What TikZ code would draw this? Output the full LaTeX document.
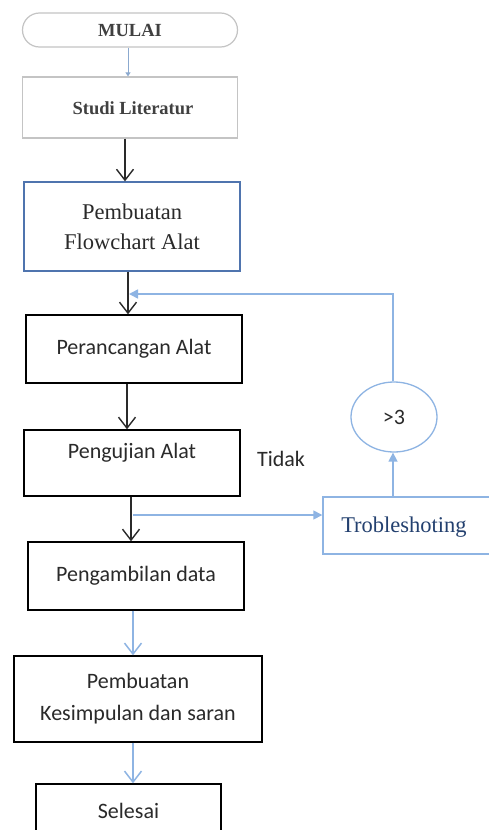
\documentclass[tikz,border=0pt]{standalone}
\usepackage{fontspec}
\setmainfont{Liberation Serif}
\newfontfamily\calib{Carlito}
\usetikzlibrary{arrows.meta,shapes.geometric}
\definecolor{lineblue}{HTML}{8EB4E3}
\definecolor{steelblue}{HTML}{4F74AE}
\definecolor{darkblue}{HTML}{23406F}
\definecolor{softgray}{HTML}{C4C4C4}
\definecolor{inkgray}{HTML}{2A2A2A}
\tikzset{
  box/.style={draw=black, line width=1.4pt, rectangle, inner sep=0pt},
  paleBox/.style={draw=softgray, line width=1.2pt, rectangle, inner sep=0pt},
  sanslabel/.style={font=\calib\fontsize{22}{32}\selectfont, text=inkgray, align=center},
  seriflabel/.style={font=\fontsize{22.5}{30}\selectfont, text=inkgray, align=center},
  boldlabel/.style={font=\bfseries\fontsize{18.5}{22}\selectfont, text=black!75},
  flowblack/.style={draw=inkgray, line width=1.4pt, -{Straight Barb[length=11pt,width=17pt,line width=1.4pt]}},
  flowblue/.style={draw=lineblue, line width=1.5pt, -{Straight Barb[length=11pt,width=17pt,line width=1.5pt]}},
  loopblue/.style={draw=lineblue, line width=1.5pt, -{Triangle[length=9pt,width=9pt]}},
}
\begin{document}
\begin{tikzpicture}[x=1pt, y=-1pt]
  \clip (0,0) rectangle (489,830);
  \fill[white] (0,0) rectangle (489,830);

  % start terminal and literature study
  \node[draw=softgray, line width=1.2pt, rounded corners=17pt, minimum width=215pt, minimum height=34pt, inner sep=0pt, boldlabel] (mulai) at (130,30) {MULAI};
  \node[paleBox, minimum width=215pt, minimum height=61pt] (studi) at (130,107.5) {};
  \node[boldlabel] (studiT) at (133,108) {Studi Literatur};

  % main process boxes
  \node[draw=steelblue, line width=1.3pt, rectangle, inner sep=0pt, minimum width=216pt, minimum height=89pt, seriflabel] (flow) at (132,226.5) {Pembuatan\\Flowchart Alat};
  \node[box, minimum width=216pt, minimum height=68pt, sanslabel] (peran) at (134,349) {Perancangan Alat};
  \node[box, minimum width=216pt, minimum height=66pt] (uji) at (132,463) {};
  \node[sanslabel] (ujiT) at (132,453) {Pengujian Alat};
  \node[box, minimum width=216pt, minimum height=68pt, sanslabel] (ambil) at (136,576) {Pengambilan data};
  \node[box, minimum width=248pt, minimum height=86pt, sanslabel] (kesim) at (138,699) {Pembuatan\\Kesimpulan dan saran};
  \node[box, minimum width=185pt, minimum height=56pt] (selesai) at (128.5,812) {};
  \node[sanslabel] (selesaiT) at (128.5,811) {Selesai};

  % troubleshooting branch
  \node[sanslabel] (tidak) at (281,459) {Tidak};
  \node[draw=lineblue, line width=1.4pt, rectangle, inner sep=0pt, minimum width=172pt, minimum height=57pt] (trob) at (409,525.5) {};
  \node[font=\fontsize{22.5}{26}\selectfont, text=darkblue] (trobT) at (404,527) {Trobleshoting};
  \node[draw=lineblue, line width=1.3pt, ellipse, inner sep=0pt, minimum width=86pt, minimum height=70pt, sanslabel] (cek) at (394,417) {>3};

  % connectors of the main flow
  \draw[draw=lineblue!80!gray, line width=0.8pt, -{Triangle[length=4pt,width=5pt]}] (mulai.south -| 128,0) -- (studi.north -| 128,0);
  \draw[flowblack] (studi.south -| 125,0) -- (flow.north -| 125,0);
  \draw[flowblack] (flow.south -| 128,0) -- (peran.north -| 128,0);
  \draw[flowblack] (peran.south -| 127,0) -- (uji.north -| 127,0);
  \draw[flowblack] (uji.south -| 131,0) -- (ambil.north -| 131,0);
  \draw[flowblue] (ambil.south -| 133,0) -- (kesim.north -| 133,0);
  \draw[flowblue] (kesim.south -| 133,0) -- (selesai.north -| 133,0);

  % branch to troubleshooting and the loop back
  \coordinate (split) at (133,515);
  \coordinate (corner) at (393,294);
  \coordinate (rejoin) at (129,294);
  \draw[loopblue] (split) -- (split -| trob.west);
  \draw[loopblue] (trob.north -| 393,0) -- (cek.south -| 393,0);
  \draw[loopblue] (cek.north -| 393,0) -- (corner) -- (rejoin);
\end{tikzpicture}
\end{document}
